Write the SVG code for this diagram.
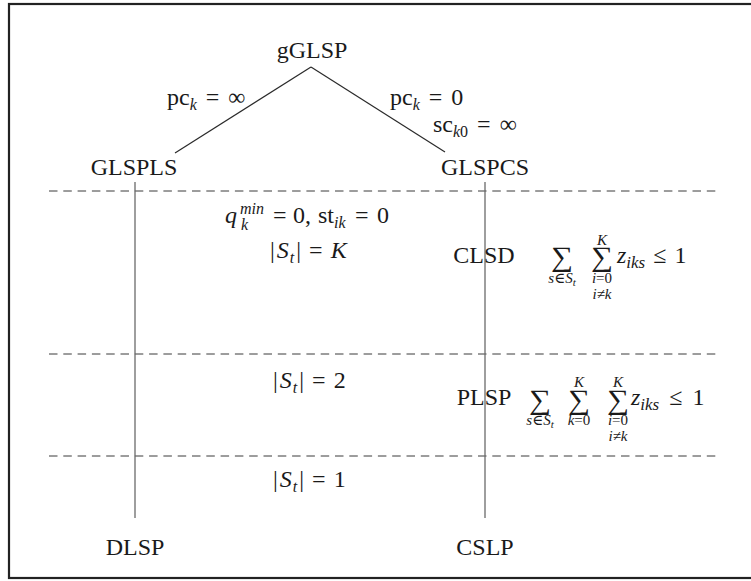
<svg xmlns="http://www.w3.org/2000/svg" width="751" height="581" viewBox="0 0 751 581">
<style>
.t{font-family:"Liberation Serif","Times New Roman","DejaVu Serif",serif;font-size:24px;fill:#1a1a1a}
.m{text-anchor:middle}
.i{font-style:italic}
.s{font-size:16px}
.z{font-size:17px}
.ss{font-size:15px}
.sss{font-size:11px}
.big{font-size:28px}
.edge{stroke:#2a2a2a;stroke-width:1.2;fill:none}
.vert{stroke:#6a6a6a;stroke-width:1.3;fill:none}
.sep{stroke:#3a3a3a;stroke-width:1;stroke-dasharray:8.5 5.8;fill:none}
</style>
<rect x="0" y="0" width="751" height="581" fill="#fff"/>
<rect x="9" y="4" width="800" height="574" fill="#fff" stroke="#222" stroke-width="2.2"/>

<g id="separators">
<line class="sep" x1="49" y1="191" x2="716" y2="191"/>
<line class="sep" x1="49" y1="354" x2="716" y2="354"/>
<line class="sep" x1="49" y1="456" x2="716" y2="456"/>
</g>

<g id="connectors">
<line class="edge" x1="311" y1="67" x2="175" y2="153"/>
<line class="edge" x1="311" y1="67" x2="445" y2="152"/>
<line class="vert" x1="135" y1="182" x2="135" y2="518"/>
<line class="vert" x1="485" y1="182" x2="485" y2="518"/>
</g>

<g id="edge-labels">
<text class="t" x="167" y="105">pc<tspan class="s i" dy="5">k</tspan><tspan dy="-5" dx="3"> = </tspan><tspan dx="3">∞</tspan></text>
<text class="t" x="390" y="105">pc<tspan class="s i" dy="5">k</tspan><tspan dy="-5" dx="3"> = </tspan><tspan dx="3">0</tspan></text>
<text class="t" x="433" y="132">sc<tspan class="s" dy="5"><tspan class="i">k</tspan>0</tspan><tspan dy="-5" dx="3"> = </tspan><tspan dx="3">∞</tspan></text>
</g>

<g id="node-gGLSP"><text class="t m" x="312" y="58">gGLSP</text></g>
<g id="node-GLSPLS"><text class="t m" x="134" y="175">GLSPLS</text></g>
<g id="node-GLSPCS"><text class="t m" x="485" y="175">GLSPCS</text></g>
<g id="node-CLSD"><text class="t m" x="484" y="263">CLSD</text></g>
<g id="node-PLSP"><text class="t m" x="484" y="405">PLSP</text></g>
<g id="node-DLSP"><text class="t m" x="135" y="555">DLSP</text></g>
<g id="node-CSLP"><text class="t m" x="485" y="555">CSLP</text></g>

<g id="region-labels">
<text class="t i" x="225" y="223">q</text>
<text class="t i s" x="240" y="214">min</text>
<text class="t i s" x="241" y="230">k</text>
<text class="t" x="273" y="223">=</text>
<text class="t" x="293" y="223">0,</text>
<text class="t" x="318" y="223">st<tspan class="s i" dy="5">ik</tspan></text>
<text class="t" x="355" y="223">=</text>
<text class="t" x="377" y="223">0</text>
<text class="t" x="270" y="258">|<tspan class="i" dx="2">S</tspan><tspan class="s i" dy="5" dx="1">t</tspan><tspan dy="-5" dx="2">|</tspan><tspan dx="2"> = </tspan><tspan class="i" dx="2">K</tspan></text>
<text class="t" x="273" y="388">|<tspan class="i" dx="2">S</tspan><tspan class="s i" dy="5" dx="1">t</tspan><tspan dy="-5" dx="2">|</tspan><tspan dx="2"> = </tspan><tspan dx="2">2</tspan></text>
<text class="t" x="273" y="487">|<tspan class="i" dx="2">S</tspan><tspan class="s i" dy="5" dx="1">t</tspan><tspan dy="-5" dx="2">|</tspan><tspan dx="2"> = </tspan><tspan dx="2">1</tspan></text>
</g>

<g id="formula-CLSD">
<text class="t m big" transform="translate(562,266) scale(1.1,1)">∑</text>
<text class="t m ss" x="562" y="283"><tspan class="i">s</tspan>∈<tspan class="i">S</tspan><tspan class="sss i" dy="3">t</tspan></text>
<text class="t m big" transform="translate(602,266) scale(1.1,1)">∑</text>
<text class="t m ss i" x="602" y="245">K</text>
<text class="t m ss" x="602" y="283"><tspan class="i">i</tspan>=0</text>
<text class="t m ss" x="602" y="299"><tspan class="i">i</tspan>≠<tspan class="i">k</tspan></text>
<text class="t" x="617" y="263"><tspan class="i">z</tspan><tspan class="z i" dy="5">iks</tspan><tspan dy="-5" dx="2"> ≤ </tspan><tspan dx="2">1</tspan></text>
</g>

<g id="formula-PLSP">
<text class="t m big" transform="translate(540,409) scale(1.1,1)">∑</text>
<text class="t m ss" x="540" y="425"><tspan class="i">s</tspan>∈<tspan class="i">S</tspan><tspan class="sss i" dy="3">t</tspan></text>
<text class="t m big" transform="translate(579,409) scale(1.1,1)">∑</text>
<text class="t m ss i" x="579" y="387">K</text>
<text class="t m ss" x="579" y="425"><tspan class="i">k</tspan>=0</text>
<text class="t m big" transform="translate(618,409) scale(1.1,1)">∑</text>
<text class="t m ss i" x="618" y="387">K</text>
<text class="t m ss" x="618" y="425"><tspan class="i">i</tspan>=0</text>
<text class="t m ss" x="618" y="441"><tspan class="i">i</tspan>≠<tspan class="i">k</tspan></text>
<text class="t" x="631" y="405"><tspan class="i">z</tspan><tspan class="z i" dy="5">iks</tspan><tspan dy="-5" dx="4"> ≤ </tspan><tspan dx="4">1</tspan></text>
</g>
</svg>
